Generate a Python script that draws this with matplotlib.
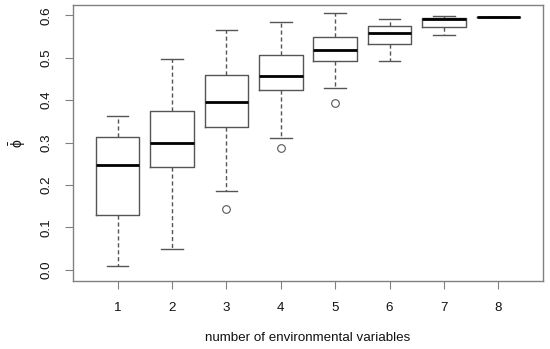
import matplotlib
matplotlib.use("Agg")
import matplotlib.pyplot as plt

plt.rcParams.update({"font.family": ["Liberation Sans", "DejaVu Sans"], "font.size": 9.6,
                     "mathtext.default": "regular"})

positions = [1, 2, 3, 4, 5, 6, 7, 8]
whisker_low = [0.009, 0.049, 0.187, 0.310, 0.429, 0.492, 0.553, 0.596]
q1 = [0.129, 0.243, 0.336, 0.423, 0.492, 0.533, 0.573, 0.596]
median = [0.247, 0.300, 0.395, 0.456, 0.518, 0.558, 0.590, 0.596]
q3 = [0.313, 0.375, 0.459, 0.507, 0.549, 0.575, 0.594, 0.596]
whisker_high = [0.363, 0.498, 0.565, 0.585, 0.605, 0.591, 0.599, 0.596]
outliers = [[], [], [0.143], [0.287], [0.393], [], [], []]

stats = []
for i in range(len(positions)):
    stats.append({"whislo": whisker_low[i], "q1": q1[i], "med": median[i],
                  "q3": q3[i], "whishi": whisker_high[i], "fliers": outliers[i]})

fig = plt.figure(figsize=(5.5, 3.49), dpi=100)
ax = fig.add_axes([73 / 550, 1 - 281 / 349, (543 - 73) / 550, (281 - 5) / 349])

edge = "#555555"
ax.bxp(stats, positions=positions, widths=0.8, showfliers=True,
       boxprops={"color": edge, "linewidth": 1.0},
       whiskerprops={"color": edge, "linewidth": 1.0, "linestyle": (0, (3, 2))},
       capprops={"color": edge, "linewidth": 1.0},
       capwidths=0.4,
       medianprops={"color": "black", "linewidth": 2.0},
       flierprops={"marker": "o", "markersize": 5.5, "markerfacecolor": "none",
                   "markeredgecolor": edge, "markeredgewidth": 0.8})

ax.set_xlim(0.18, 8.82)
ax.set_ylim(-0.026, 0.624)
ax.set_yticks([0.0, 0.1, 0.2, 0.3, 0.4, 0.5, 0.6])
ax.set_yticklabels(["0.0", "0.1", "0.2", "0.3", "0.4", "0.5", "0.6"], rotation=90, va="center")
ax.set_xticks(positions)
ax.set_xticklabels([str(p) for p in positions])

for s in ax.spines.values():
    s.set_color("#808080")
    s.set_linewidth(1.0)
ax.tick_params(length=6, color="#808080", pad=9, labelcolor="#111111")

ax.set_xlabel("number of environmental variables", labelpad=13, color="#111111")
ax.set_ylabel(r"$\bar{\phi}$", labelpad=9, color="#111111", fontsize=10)

fig.savefig("out.png", dpi=100)
